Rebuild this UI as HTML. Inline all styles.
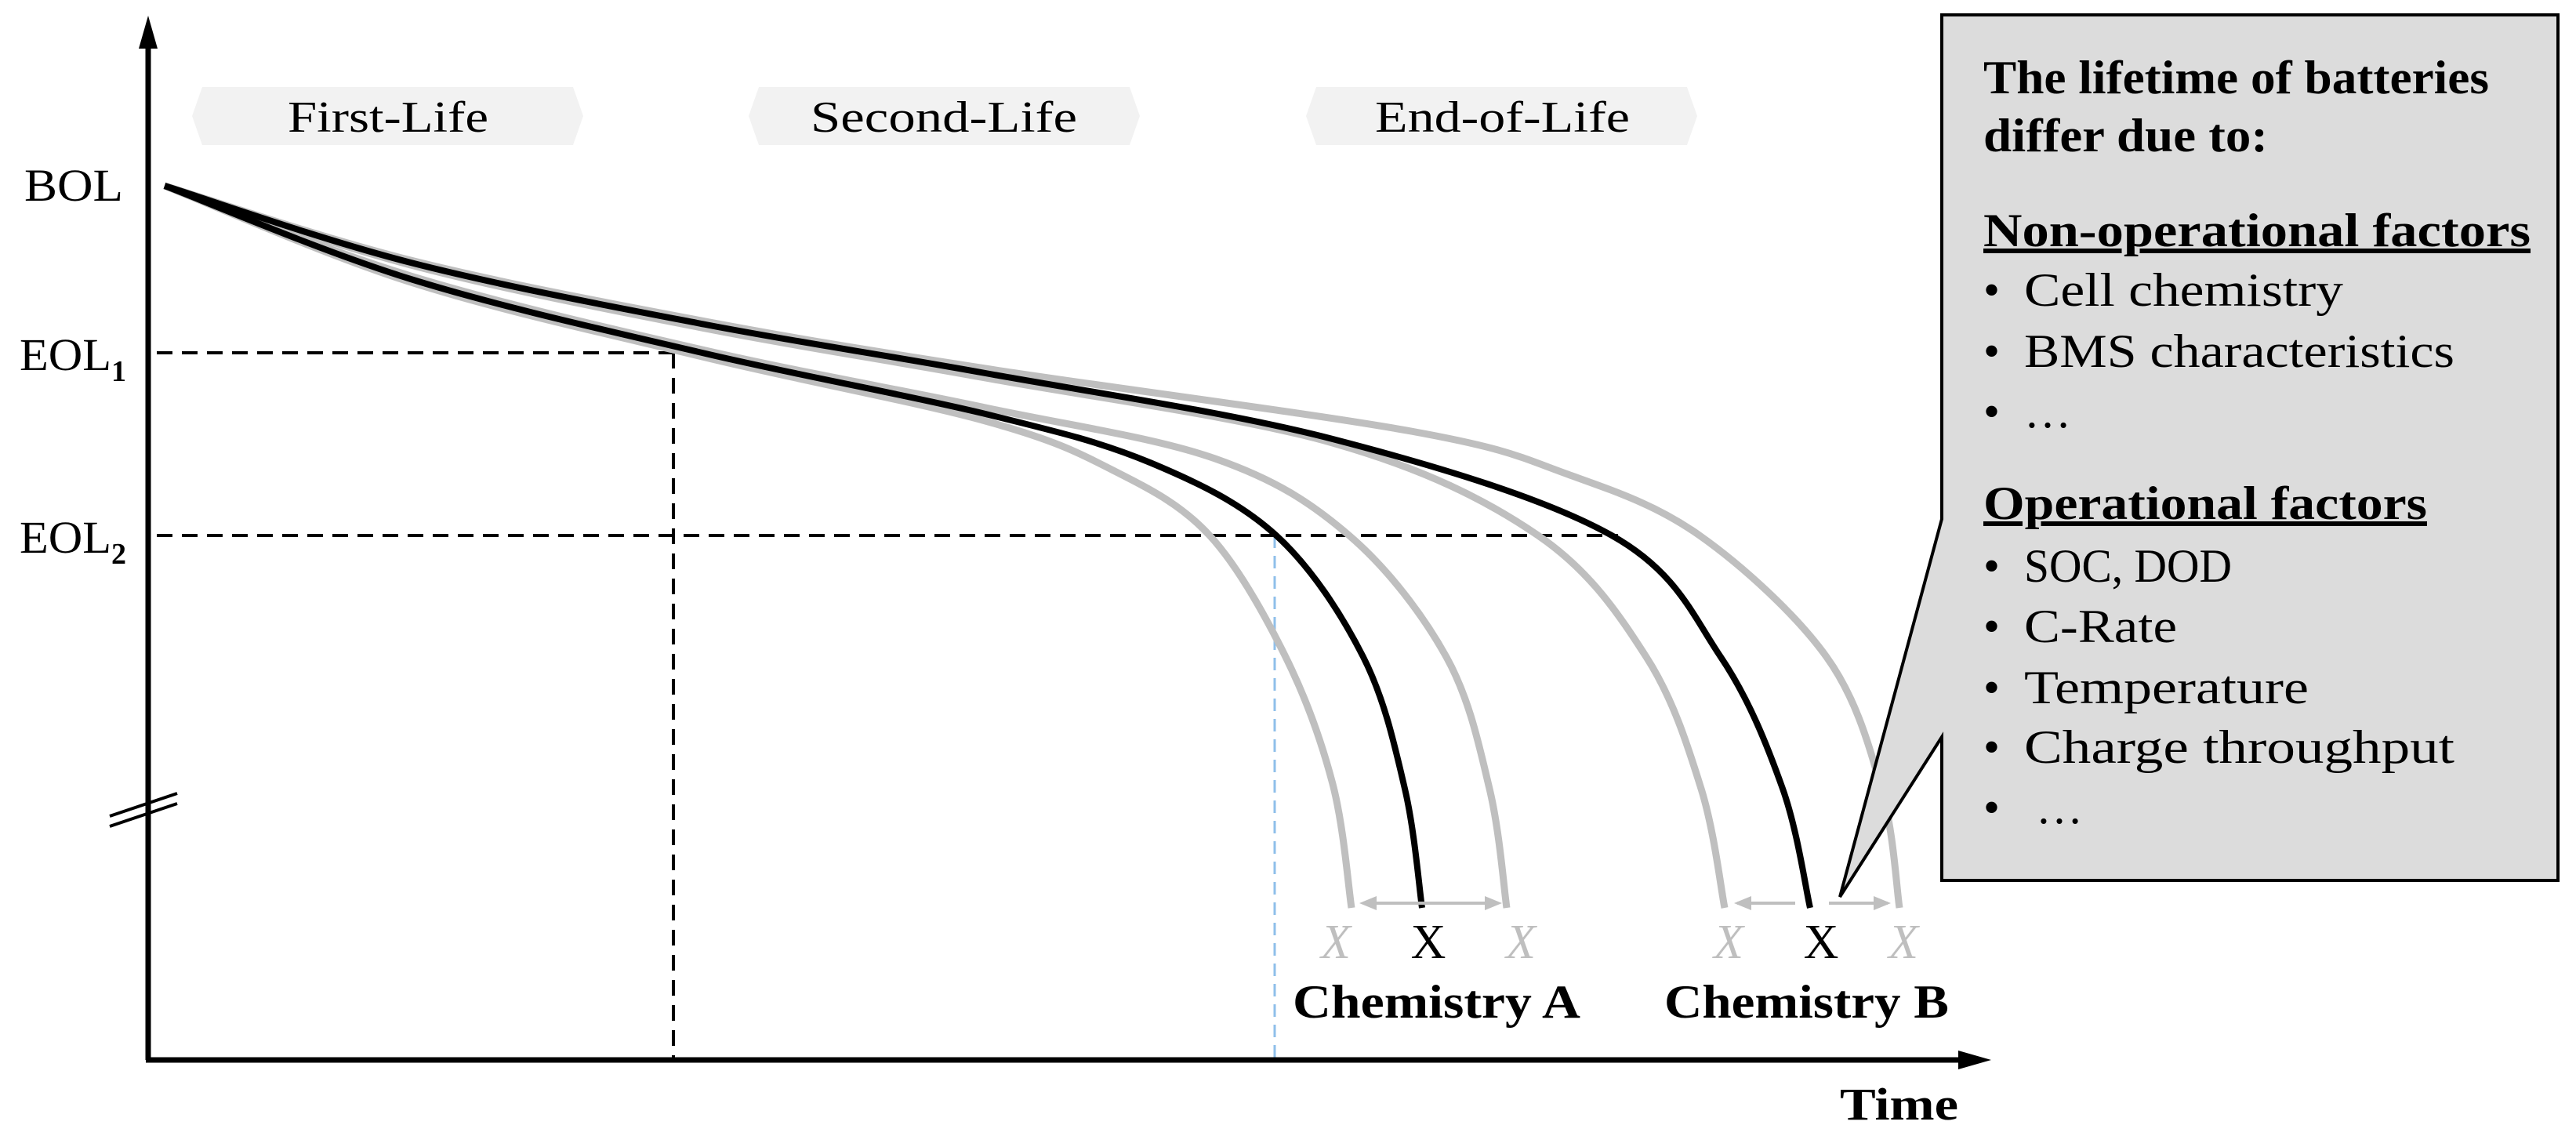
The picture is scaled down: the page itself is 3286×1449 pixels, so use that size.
<!DOCTYPE html>
<html><head><meta charset="utf-8"><style>
html,body{margin:0;padding:0;background:#fff;}
svg{display:block;}
text{font-family:"Liberation Serif",serif;}
</style></head><body>
<svg id="s" width="3286" height="1449" viewBox="0 0 3286 1449" xmlns="http://www.w3.org/2000/svg">
<polygon points="245,148 258,111 731,111 744,148 731,185 258,185" fill="#f2f2f2"/>
<text x="367" y="168" font-size="56" textLength="256" lengthAdjust="spacingAndGlyphs">First-Life</text>
<polygon points="955,148 968,111 1441,111 1454,148 1441,185 968,185" fill="#f2f2f2"/>
<text x="1034" y="168" font-size="56" textLength="340" lengthAdjust="spacingAndGlyphs">Second-Life</text>
<polygon points="1666,148 1679,111 2152,111 2165,148 2152,185 1679,185" fill="#f2f2f2"/>
<text x="1754" y="168" font-size="56" textLength="325" lengthAdjust="spacingAndGlyphs">End-of-Life</text>

<g stroke="#000" stroke-width="4" stroke-dasharray="20,12" fill="none">
<line x1="200" y1="450" x2="859" y2="450"/>
<line x1="859" y1="450" x2="859" y2="1350"/>
<line x1="200" y1="683" x2="2064" y2="683"/>
</g>
<line x1="1626" y1="683" x2="1626" y2="1350" stroke="#8fbfea" stroke-width="3" stroke-dasharray="16,10"/>

<g id="curves" fill="none" stroke-linecap="butt"></g>

<line x1="189" y1="60" x2="189" y2="1352" stroke="#000" stroke-width="7"/>
<polygon points="189,20 177,62 201,62" fill="#000"/>
<line x1="186" y1="1352" x2="2500" y2="1352" stroke="#000" stroke-width="7"/>
<polygon points="2540,1352 2498,1340 2498,1364" fill="#000"/>
<line x1="140" y1="1041" x2="226" y2="1012" stroke="#000" stroke-width="4"/>
<line x1="140" y1="1054" x2="226" y2="1025" stroke="#000" stroke-width="4"/>

<text x="31" y="256" font-size="58" textLength="126" lengthAdjust="spacingAndGlyphs">BOL</text>
<text x="25" y="472" font-size="58"><tspan textLength="117" lengthAdjust="spacingAndGlyphs">EOL</tspan><tspan font-size="38" dy="14" font-weight="bold">1</tspan></text>
<text x="25" y="705" font-size="58"><tspan textLength="117" lengthAdjust="spacingAndGlyphs">EOL</tspan><tspan font-size="38" dy="14" font-weight="bold">2</tspan></text>
<text x="2347" y="1428" font-size="58" font-weight="bold" textLength="151" lengthAdjust="spacingAndGlyphs">Time</text>

<g stroke="#bfbfbf" stroke-width="4">
<line x1="1740" y1="1152" x2="1910" y2="1152"/>
<line x1="2216" y1="1152" x2="2290" y2="1152"/>
<line x1="2333" y1="1152" x2="2408" y2="1152"/>
</g>
<g fill="#bfbfbf">
<polygon points="1734,1152 1756,1143 1756,1161"/>
<polygon points="1916,1152 1894,1143 1894,1161"/>
<polygon points="2212,1152 2234,1143 2234,1161"/>
<polygon points="2412,1152 2390,1143 2390,1161"/>
</g>

<g font-size="62" text-anchor="middle">
<text x="1704" y="1222" fill="#bfbfbf" font-style="italic">X</text>
<text x="1822" y="1222">X</text>
<text x="1940" y="1222" fill="#bfbfbf" font-style="italic">X</text>
<text x="2205" y="1222" fill="#bfbfbf" font-style="italic">X</text>
<text x="2323" y="1222">X</text>
<text x="2428" y="1222" fill="#bfbfbf" font-style="italic">X</text>
</g>
<text x="1649" y="1298" font-size="60" font-weight="bold" textLength="367" lengthAdjust="spacingAndGlyphs">Chemistry A</text>
<text x="2123" y="1298" font-size="60" font-weight="bold" textLength="363" lengthAdjust="spacingAndGlyphs">Chemistry B</text>

<path d="M2477,19 L3263,19 L3263,1123 L2477,1123 L2477,940 L2347,1144 L2477,662 Z" fill="#dcdcdc" stroke="#000" stroke-width="4"/>
<g font-size="60">
<text x="2530" y="119" font-weight="bold" textLength="645" lengthAdjust="spacingAndGlyphs">The lifetime of batteries</text>
<text x="2530" y="193" font-weight="bold" textLength="363" lengthAdjust="spacingAndGlyphs">differ due to:</text>
<text x="2530" y="314" font-weight="bold" text-decoration="underline" textLength="698" lengthAdjust="spacingAndGlyphs">Non-operational factors</text>
<text x="2530" y="390">•</text><text x="2582" y="390" textLength="407" lengthAdjust="spacingAndGlyphs">Cell chemistry</text>
<text x="2530" y="468">•</text><text x="2582" y="468" textLength="549" lengthAdjust="spacingAndGlyphs">BMS characteristics</text>
<text x="2530" y="545">•</text><text x="2582" y="545">…</text>
<text x="2530" y="662" font-weight="bold" text-decoration="underline" textLength="566" lengthAdjust="spacingAndGlyphs">Operational factors</text>
<text x="2530" y="742">•</text><text x="2582" y="742" textLength="265" lengthAdjust="spacingAndGlyphs">SOC, DOD</text>
<text x="2530" y="819">•</text><text x="2582" y="819" textLength="195" lengthAdjust="spacingAndGlyphs">C-Rate</text>
<text x="2530" y="897">•</text><text x="2582" y="897" textLength="363" lengthAdjust="spacingAndGlyphs">Temperature</text>
<text x="2530" y="973">•</text><text x="2582" y="973" textLength="549" lengthAdjust="spacingAndGlyphs">Charge throughput</text>
<text x="2530" y="1050">•</text><text x="2597" y="1050">…</text>
</g>
</svg>
<script>
function cr(p){var d="M"+p[0][0]+","+p[0][1];for(var i=0;i<p.length-1;i++){var p0=p[i-1]||p[i],p1=p[i],p2=p[i+1],p3=p[i+2]||p2;
var c1=[p1[0]+(p2[0]-p0[0])/6,p1[1]+(p2[1]-p0[1])/6],c2=[p2[0]-(p3[0]-p1[0])/6,p2[1]-(p3[1]-p1[1])/6];
d+=" C"+c1+" "+c2+" "+p2;}return d;}
var g=[[[210,237],[524,360],[900,456],[1257,537],[1420,600],[1543,683],[1640,838],[1700,1000],[1724,1158]],
[[210,237],[524,352],[900,447],[1257,520],[1550,585],[1721,683],[1845,838],[1900,1006],[1922,1158]],
[[210,237],[524,338],[900,419],[1257,482],[1700,565],[1962,683],[2100,838],[2170,1006],[2200,1158]],
[[210,237],[524,332],[900,410],[1257,470],[1800,550],[2000,605],[2168,683],[2330,838],[2400,1006],[2423,1158]]];
var b=[[[210,237],[524,356],[900,451],[1257,528],[1467,590],[1628,683],[1739,838],[1792,1006],[1814,1158]],
[[210,237],[524,335],[900,414],[1257,476],[1700,560],[2056,683],[2195,838],[2274,1006],[2309,1158]]];
var h="";g.forEach(function(p){h+='<path d="'+cr(p)+'" stroke="#bfbfbf" stroke-width="9"/>';});
b.forEach(function(p){h+='<path d="'+cr(p)+'" stroke="#000" stroke-width="8"/>';});
document.getElementById("curves").innerHTML=h;
</script>
</body></html>
